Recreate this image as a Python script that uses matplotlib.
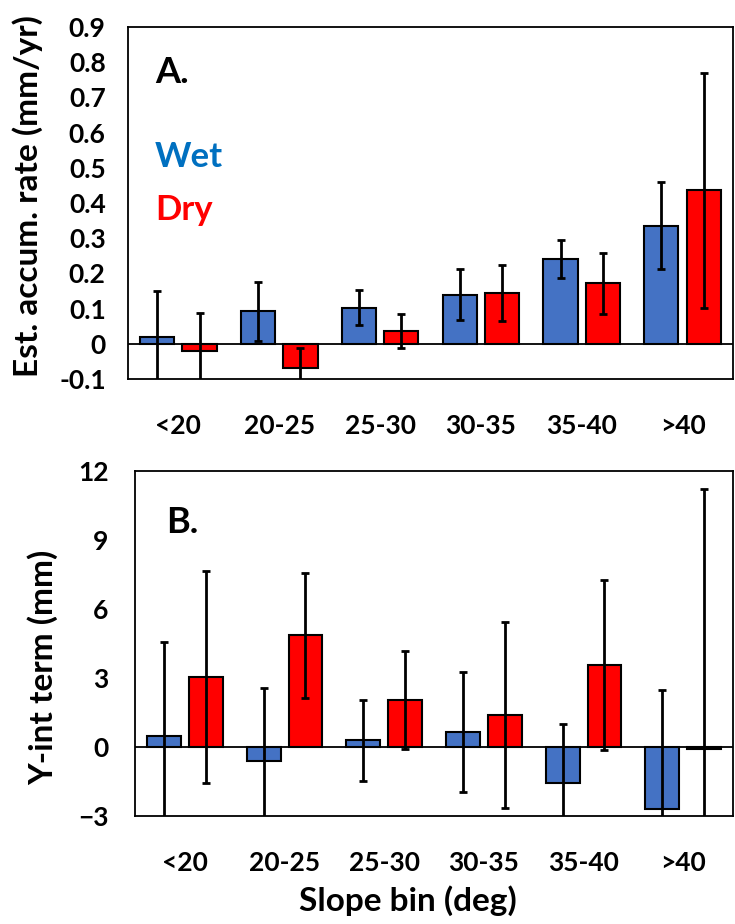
import numpy as np
import matplotlib.pyplot as plt

plt.rcParams['font.family'] = ['Lato', 'DejaVu Sans']
plt.rcParams['font.weight'] = 'bold'

# slope bins (deg)
bins = ["<20", "20-25", "25-30", "30-35", "35-40", ">40"]

# panel A: estimated accumulation rate (mm/yr)
rate_wet = [0.019, 0.093, 0.103, 0.140, 0.242, 0.336]
rate_wet_err = [0.13, 0.084, 0.050, 0.072, 0.054, 0.123]
rate_dry = [-0.020, -0.070, 0.036, 0.145, 0.172, 0.436]
rate_dry_err = [0.108, 0.057, 0.048, 0.080, 0.086, 0.334]

# panel B: y-intercept term (mm)
yint_wet = [0.47, -0.60, 0.29, 0.67, -1.58, -2.71]
yint_wet_err = [4.10, 3.18, 1.76, 2.61, 2.57, 5.20]
yint_dry = [3.05, 4.86, 2.04, 1.39, 3.56, -0.08]
yint_dry_err = [4.60, 2.72, 2.13, 4.05, 3.68, 11.30]

blue = "#4472C4"
red = "#FF0000"

fig = plt.figure(figsize=(7.35, 9.24), dpi=100)
axA = fig.add_axes([0.1741, 0.5898, 0.8231, 0.381])
axB = fig.add_axes([0.1837, 0.1169, 0.8136, 0.3734])

x = np.arange(len(bins))
w = 0.34
off = 0.21


def draw_panel(ax, wet, wet_err, dry, dry_err, ypad):
    ax.bar(x - off, wet, w, color=blue, edgecolor="black", linewidth=1.5, zorder=2)
    ax.bar(x + off, dry, w, color=red, edgecolor="black", linewidth=1.5, zorder=2)
    ax.errorbar(x - off, wet, yerr=wet_err, fmt="none", ecolor="black",
                elinewidth=2, capsize=3, capthick=2, zorder=3)
    ax.errorbar(x + off, dry, yerr=dry_err, fmt="none", ecolor="black",
                elinewidth=2, capsize=3, capthick=2, zorder=3)
    ax.axhline(0, color="black", linewidth=1.3, zorder=4)
    ax.set_xlim(-0.5, len(bins) - 0.5)
    ax.set_xticks(x)
    ax.set_xticklabels(bins)
    ax.tick_params(axis="both", length=0, labelsize=19)
    ax.tick_params(axis="x", pad=25)
    ax.tick_params(axis="y", pad=ypad)
    for s in ax.spines.values():
        s.set_linewidth(1.3)
        s.set_color("black")


draw_panel(axA, rate_wet, rate_wet_err, rate_dry, rate_dry_err, 16)
axA.set_ylim(-0.1, 0.9)
axA.set_yticks(np.arange(-0.1, 0.91, 0.1))
axA.set_yticklabels(["-0.1", "0", "0.1", "0.2", "0.3", "0.4", "0.5",
                     "0.6", "0.7", "0.8", "0.9"])
axA.set_ylabel("Est. accum. rate (mm/yr)", fontsize=24, fontweight="bold")
axA.yaxis.set_label_coords(-0.14, 0.52)
axA.text(0.045, 0.87, "A.", transform=axA.transAxes, fontsize=26,
         fontweight="bold", va="center")
axA.text(0.045, 0.63, "Wet", transform=axA.transAxes, fontsize=25,
         fontweight="bold", color="#0070C0", va="center")
axA.text(0.045, 0.48, "Dry", transform=axA.transAxes, fontsize=25,
         fontweight="bold", color=red, va="center")

draw_panel(axB, yint_wet, yint_wet_err, yint_dry, yint_dry_err, 19)
axB.set_ylim(-3, 12)
axB.set_yticks([-3, 0, 3, 6, 9, 12])
axB.set_ylabel("Y-int term (mm)", fontsize=24, fontweight="bold")
axB.yaxis.set_label_coords(-0.129, 0.43)
axB.set_xlabel("Slope bin (deg)", fontsize=24, fontweight="bold")
axB.xaxis.set_label_coords(0.457, -0.2)
axB.text(0.052, 0.852, "B.", transform=axB.transAxes, fontsize=26,
         fontweight="bold", va="center")

fig.savefig("out.png", dpi=100)
